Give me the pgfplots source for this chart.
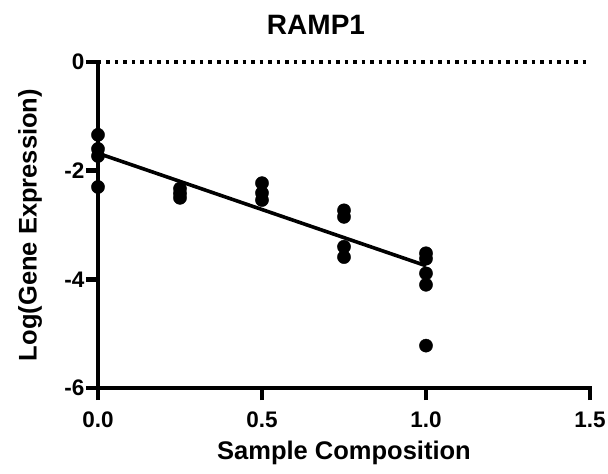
\documentclass[border=0pt]{standalone}
\usepackage{pgfplots}
\pgfplotsset{compat=1.18}
\usepackage{fontspec}
\setmainfont{Liberation Sans}
\begin{document}
\begin{tikzpicture}
\path[use as bounding box] (-98pt,-86pt) rectangle (510pt,388pt);
\begin{axis}[
  at={(0,0)}, anchor=south west,
  scale only axis, width=492pt, height=326pt,
  xmin=0, xmax=1.5, ymin=-6, ymax=0,
  axis x line=bottom, axis y line=left,
  axis line style={line width=4.6pt, -, line cap=rect},
  xtick={0,0.5,1.0,1.5}, ytick={-6,-4,-2,0},
  xticklabels={0.0,0.5,1.0,1.5},
  yticklabels={-6,-4,-2,0},
  tick align=outside, major tick length=12pt,
  tick style={line width=4.6pt, black},
  every major tick/.append style={line width=4.6pt},
  tick label style={font=\fontsize{22.5}{26}\selectfont\bfseries},
  xticklabel shift=8pt,
  yticklabel shift=-2pt,
  xlabel={Sample Composition},
  ylabel={Log(Gene Expression)},
  label style={font=\fontsize{25.5}{28}\selectfont\bfseries},
  xlabel style={at={(axis description cs:0.5,0)}, anchor=center, yshift=-65pt},
  ylabel style={at={(axis description cs:-0.1382,0.5)}, anchor=center},
  clip=false,
]
\addplot[black, line width=3.2pt, dash pattern=on 3.5pt off 5pt, forget plot] coordinates {(0,0) (1.5,0)};
\addplot[only marks, mark=*, mark size=6.6pt, black] coordinates {
 (0,-1.34) (0,-1.60) (0,-1.73) (0,-2.30)
 (0.25,-2.33) (0.25,-2.42) (0.25,-2.50)
 (0.5,-2.23) (0.5,-2.41) (0.5,-2.54)
 (0.75,-2.73) (0.75,-2.85) (0.75,-3.40) (0.75,-3.59)
 (1,-3.52) (1,-3.62) (1,-3.89) (1,-4.10) (1,-5.22)
};
\addplot[black, line width=3.6pt] coordinates {(0,-1.68) (1,-3.75)};
\end{axis}
\node[font=\fontsize{28}{32}\selectfont\bfseries] at (218pt,363pt) {RAMP1};
\end{tikzpicture}
\end{document}
